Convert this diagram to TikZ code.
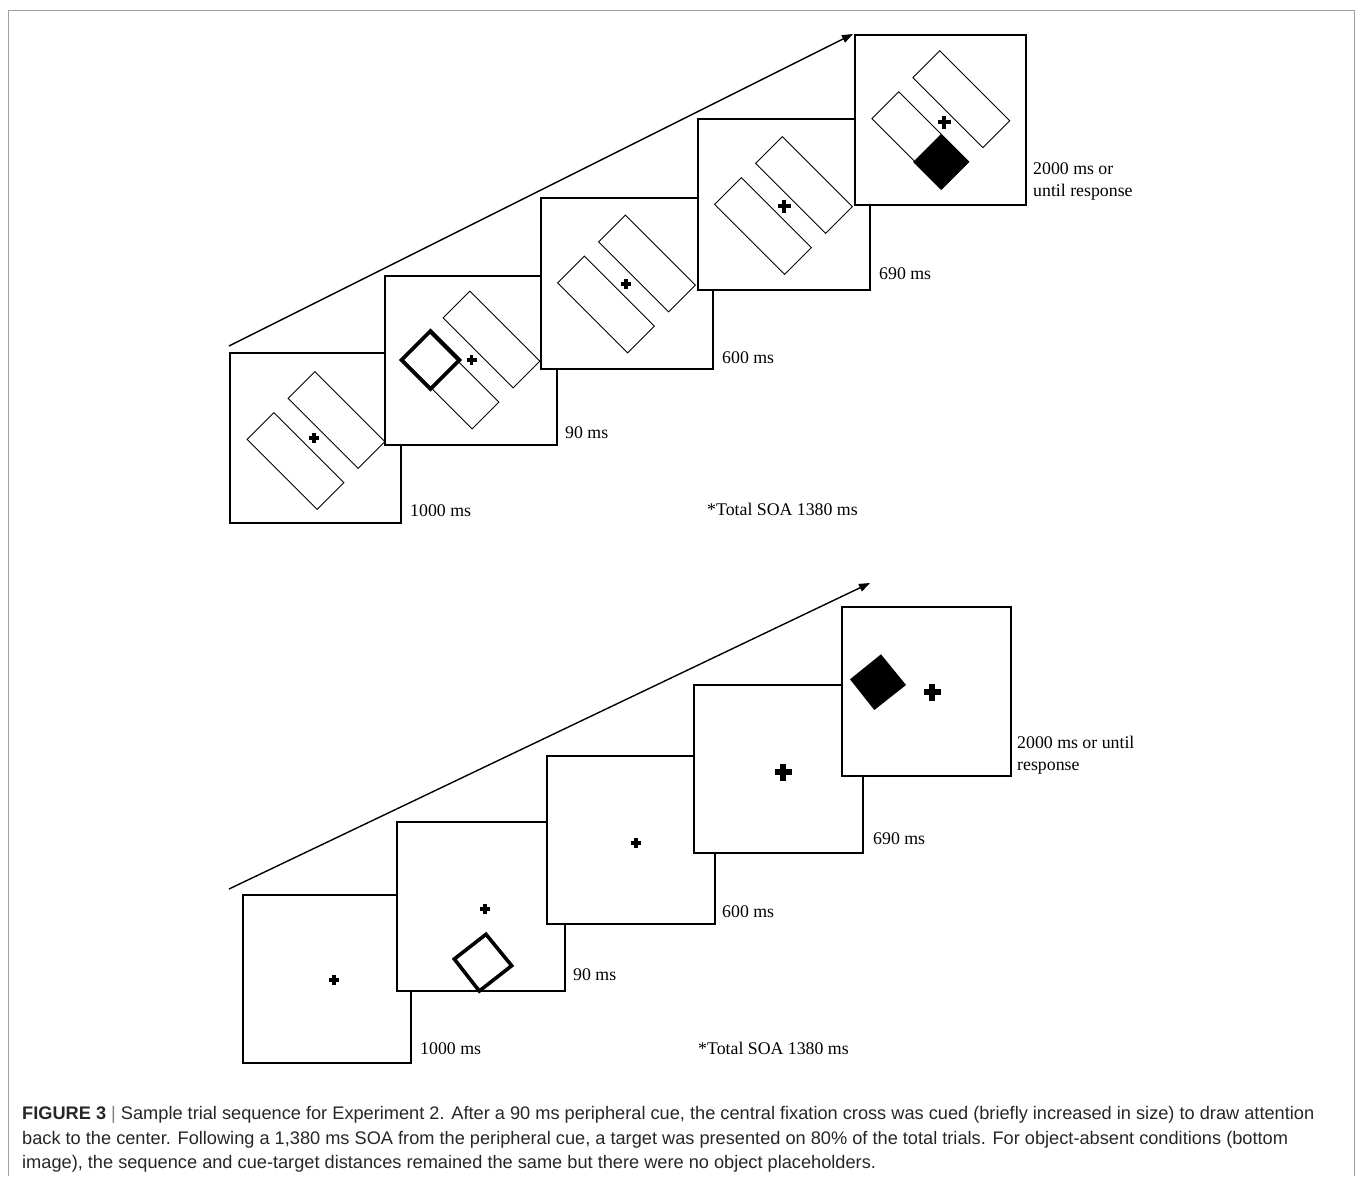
\documentclass[tikz,border=0pt]{standalone}
\usepackage{fontspec}
\setmainfont{Liberation Serif}
\newfontfamily\capfont{Liberation Sans}
\usetikzlibrary{arrows.meta}
\newcommand\fixcross[4]{%
  \fill ({#1-#3/2},{#2-#4/2}) rectangle ({#1+#3/2},{#2+#4/2});
  \fill ({#1-#4/2},{#2-#3/2}) rectangle ({#1+#4/2},{#2+#3/2});}
\newcommand\holders[2]{%
  \begin{scope}[shift={(#1,#2)}]
    \draw[holder] (68.9,1.1) -- (42.1,27.9) -- (-27.9,-42.1) -- (-1.1,-68.9) -- cycle;
    \draw[holder] (27.9,42.1) -- (1.1,68.9) -- (-68.9,-1.1) -- (-42.1,-27.9) -- cycle;
  \end{scope}}
\begin{document}
\begin{tikzpicture}[x=1pt,y=-1pt,
  screen/.style={draw=black,fill=white,line width=1.4pt},
  holder/.style={draw=black,line width=0.9pt},
  cue/.style={draw=black,line width=3.6pt,line join=miter},
  targ/.style={fill=black},
  lbl/.style={anchor=base west,inner sep=0pt,font=\fontsize{17.8}{22}\selectfont},
  seq/.style={line width=1.4pt,-{Triangle[length=11pt,width=8pt]}},
  captext/.style={anchor=base west,inner sep=0pt,font=\capfont\fontsize{18.2}{22}\selectfont,text=black!85}
]
\useasboundingbox (0,0) rectangle (1355,1176);
% outer frame
\draw[gray!75,line width=1pt] (8.5,1176) -- (8.5,10.5) -- (1354,10.5) -- (1354,1176);

% ---------------- top sequence ----------------
\coordinate (ta) at (229,346);
\coordinate (tb) at (853,34);
\draw[seq] (ta) -- (tb);

\draw[screen] (230,353) rectangle (401,523);
\holders{316}{440.5}
\fixcross{314}{438}{10}{3.5}

\draw[screen] (385,276) rectangle (557,445);
\holders{471}{360}
\fixcross{471.5}{360}{10}{3.5}
\draw[cue] (430.5,331) -- (459.5,360) -- (430.5,389) -- (401.5,360) -- cycle;

\draw[screen] (541,198) rectangle (713,369);
\holders{626.5}{284}
\fixcross{626}{284}{10}{3.5}

\draw[screen] (698,119) rectangle (870,290);
\holders{783.5}{205.5}
\fixcross{784}{206}{13}{4.5}

\draw[screen] (855,35) rectangle (1026,205);
\holders{940.8}{119.7}
\fixcross{944}{122}{13}{4.5}
\fill[targ] (941,134) -- (969,162) -- (941,190) -- (913,162) -- cycle;

\node[lbl] (t1) at (410,516) {1000 ms};
\node[lbl] (t2) at (565,438) {90 ms};
\node[lbl] (t3) at (722,363) {600 ms};
\node[lbl] (t4) at (879,279) {690 ms};
\node[lbl] (t5) at (1033,174) {2000 ms or};
\node[lbl] (t6) at (1033,196) {until response};
\node[lbl] (t7) at (707,515) {*Total SOA 1380 ms};

% ---------------- bottom sequence ----------------
\coordinate (ba) at (229,889);
\coordinate (bb) at (870,583);
\draw[seq] (ba) -- (bb);

\draw[screen] (243,895) rectangle (411,1063);
\fixcross{334}{980}{9.5}{3.5}

\draw[screen] (397,822) rectangle (565,991);
\fixcross{485}{909}{9.5}{3.5}
\draw[cue] (486,934.3) -- (511.7,965.7) -- (479.3,991) -- (454.3,959) -- cycle;

\draw[screen] (547,756) rectangle (715,924);
\fixcross{636}{843}{9.5}{3.5}

\draw[screen] (694,685) rectangle (863,853);
\fixcross{783}{772}{17}{5.5}

\draw[screen] (842,607) rectangle (1011,776);
\fixcross{932}{692}{17}{5.5}
\fill[targ] (881,654.3) -- (906,685) -- (874.3,710) -- (850,679.3) -- cycle;

\node[lbl] (b1) at (420,1054) {1000 ms};
\node[lbl] (b2) at (573,980) {90 ms};
\node[lbl] (b3) at (722,917) {600 ms};
\node[lbl] (b4) at (873,844) {690 ms};
\node[lbl] (b5) at (1017,748) {2000 ms or until};
\node[lbl] (b6) at (1017,770) {response};
\node[lbl] (b7) at (698,1054) {*Total SOA 1380 ms};

% ---------------- caption ----------------
\node[captext] (c1) at (22,1119) {\textbf{FIGURE 3} {\color{gray}|} Sample trial sequence for Experiment 2. After a 90 ms peripheral cue, the central fixation cross was cued (briefly increased in size) to draw attention};
\node[captext] (c2) at (22,1144) {back to the center. Following a 1,380 ms SOA from the peripheral cue, a target was presented on 80\% of the total trials. For object-absent conditions (bottom};
\node[captext] (c3) at (22,1168) {image), the sequence and cue-target distances remained the same but there were no object placeholders.};
\end{tikzpicture}
\end{document}
